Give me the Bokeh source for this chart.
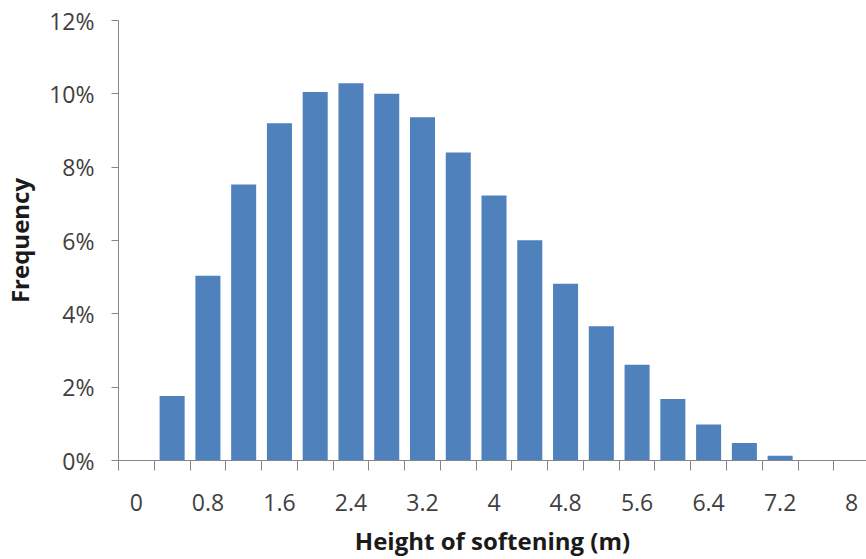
from bokeh.plotting import figure
from bokeh.models import Range1d, FixedTicker, NumeralTickFormatter, ColumnDataSource
from bokeh.embed import file_html
from bokeh.resources import INLINE

# Histogram bins (m) and frequency (%)
bin_starts = [0.0, 0.4, 0.8, 1.2, 1.6, 2.0, 2.4, 2.8, 3.2, 3.6, 4.0,
              4.4, 4.8, 5.2, 5.6, 6.0, 6.4, 6.8, 7.2, 7.6, 8.0]
frequency_pct = [0.0, 1.76, 5.04, 7.53, 9.20, 10.05, 10.29, 10.00, 9.36, 8.40, 7.23,
                 6.01, 4.82, 3.66, 2.61, 1.68, 0.98, 0.48, 0.13, 0.0, 0.0]
x_tick_labels = ["0", "0.8", "1.6", "2.4", "3.2", "4", "4.8", "5.6", "6.4", "7.2", "8"]
y_ticks_pct = [0, 2, 4, 6, 8, 10, 12]
x_title = "Height of softening (m)"
y_title = "Frequency"

idx = list(range(len(bin_starts)))
src = ColumnDataSource(dict(x=idx, top=[v / 100 for v in frequency_pct]))

AXIS = "#868686"
TICK_TXT = "#404040"
TITLE_TXT = "#1a1a1a"
FONT = "Open Sans"

p = figure(width=866, height=559, output_backend="svg", toolbar_location=None,
           x_range=Range1d(-0.5, len(idx) - 0.5 - 0.085), y_range=Range1d(0, 0.12),
           min_border_left=117, min_border_right=0, min_border_top=20, min_border_bottom=97,
           background_fill_color="white", border_fill_color="white")
p.outline_line_color = None
p.xgrid.visible = False
p.ygrid.visible = False

p.vbar(x="x", top="top", width=0.7, source=src, fill_color="#4F81BD", line_color=None)

even_idx = [i for i in idx if i % 2 == 0]
xa = p.xaxis[0]
xa.ticker = FixedTicker(ticks=even_idx, minor_ticks=[i - 0.5 for i in idx] + [idx[-1] + 0.5])
xa.major_label_overrides = {i: lab for i, lab in zip(even_idx, x_tick_labels)}
xa.major_tick_line_color = None
xa.major_tick_out = 0
xa.major_tick_in = 0
xa.minor_tick_out = 10
xa.minor_tick_in = 0
xa.minor_tick_line_color = AXIS
xa.axis_line_color = AXIS
xa.major_label_standoff = 23
xa.major_label_text_font = FONT
xa.major_label_text_font_size = "23px"
xa.major_label_text_color = TICK_TXT
xa.axis_label = x_title
xa.axis_label_text_font = FONT
xa.axis_label_text_font_style = "bold"
xa.axis_label_text_font_size = "24px"
xa.axis_label_text_color = TITLE_TXT
xa.axis_label_standoff = 10

ya = p.yaxis[0]
ya.ticker = FixedTicker(ticks=[v / 100 for v in y_ticks_pct])
ya.formatter = NumeralTickFormatter(format="0%")
ya.major_tick_out = 7
ya.major_tick_in = 0
ya.major_tick_line_color = AXIS
ya.minor_tick_line_color = None
ya.axis_line_color = AXIS
ya.major_label_standoff = 17
ya.major_label_text_font = FONT
ya.major_label_text_font_size = "23px"
ya.major_label_text_color = TICK_TXT
ya.axis_label = y_title
ya.axis_label_text_font = FONT
ya.axis_label_text_font_style = "bold"
ya.axis_label_text_font_size = "24px"
ya.axis_label_text_color = TITLE_TXT
ya.axis_label_standoff = 10

open("out.html", "w").write(file_html(p, INLINE))
